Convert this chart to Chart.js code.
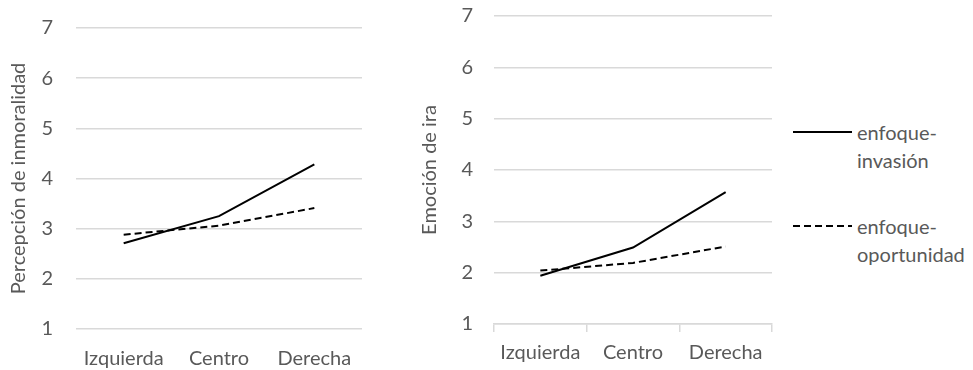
<!DOCTYPE html>
<html>
<head>
<meta charset="utf-8" />
<title>Percepción de inmoralidad y emoción de ira</title>
<script src="https://cdn.jsdelivr.net/npm/chart.js"></script>
<style>
  body { margin:0; padding:0; background:#fff; width:973px; height:370px; overflow:hidden; font-family: Lato, sans-serif; }
  canvas { position:absolute; }
  #c1 { left:0; top:-7px; }
  #c2 { left:400px; top:-17px; }
  #legend { position:absolute; left:793px; top:0; color:#595959; font-size:20px; }
  .item { position:absolute; left:0; width:180px; }
  .item svg { position:absolute; left:0; }
  .item span { position:absolute; left:64px; line-height:28px; white-space:nowrap; }
</style>
</head>
<body>
<canvas id="c1" width="380" height="377"></canvas>
<canvas id="c2" width="380" height="387"></canvas>
<div id="legend"></div>
<script>
const categories = ['Izquierda', 'Centro', 'Derecha'];
const seriesNames = [['enfoque-', 'invasión'], ['enfoque-', 'oportunidad']];
const inmoralidadInvasion = [2.71, 3.25, 4.28];
const inmoralidadOportunidad = [2.88, 3.06, 3.41];
const iraInvasion = [1.94, 2.49, 3.57];
const iraOportunidad = [2.04, 2.19, 2.51];
const yMin = 1, yMax = 7;

const gray = '#595959';
const gridColor = '#d9d9d9';
const dash = [7, 4];
Chart.defaults.font.family = 'Lato, sans-serif';
Chart.defaults.font.size = 20;
Chart.defaults.color = gray;

function makeChart(id, title, invasion, oportunidad, o) {
  return new Chart(document.getElementById(id), {
    type: 'line',
    data: {
      labels: categories,
      datasets: [
        { label: seriesNames[0].join(''), data: invasion, borderColor: '#000', borderWidth: 2, pointRadius: 0, tension: 0 },
        { label: seriesNames[1].join(''), data: oportunidad, borderColor: '#000', borderWidth: 2, borderDash: dash, pointRadius: 0, tension: 0 }
      ]
    },
    options: {
      responsive: false,
      devicePixelRatio: 1,
      animation: false,
      layout: { padding: { left: 0, right: o.right, top: 0, bottom: 0 } },
      plugins: { legend: { display: false }, tooltip: { enabled: false } },
      scales: {
        x: {
          offset: true,
          grid: o.xTicks
            ? { display: true, drawOnChartArea: false, drawTicks: true, tickLength: 8, color: gridColor, lineWidth: 1.5, offset: true }
            : { display: false },
          border: { display: o.xTicks, color: gridColor, width: 1.5 },
          ticks: { padding: o.xPad, color: gray, maxRotation: 0 },
          afterFit: s => { s.height = o.xHeight; }
        },
        y: {
          min: yMin, max: yMax,
          ticks: { stepSize: 1, padding: o.yPad, color: gray },
          grid: { color: gridColor, lineWidth: 1.5, drawTicks: false },
          border: { display: false },
          title: { display: true, text: title, color: gray, padding: { top: o.titlePad, bottom: 0 } },
          afterFit: s => { s.width = o.yWidth; }
        }
      }
    }
  });
}

makeChart('c1', 'Percepción de inmoralidad', inmoralidadInvasion, inmoralidadOportunidad,
  { right: 18, xHeight: 41, xPad: 10, xTicks: false, yPad: 23, yWidth: 76, titlePad: 7 });
makeChart('c2', 'Emoción de ira', iraInvasion, iraOportunidad,
  { right: 8, xHeight: 46, xPad: 9, xTicks: true, yPad: 21, yWidth: 94, titlePad: 18 });

// legend
const legend = document.getElementById('legend');
const legendTops = [118, 212];
seriesNames.forEach((name, i) => {
  const item = document.createElement('div');
  item.className = 'item';
  item.style.top = legendTops[i] + 'px';
  const dashAttr = i === 1 ? ' stroke-dasharray="' + dash.join(',') + '"' : '';
  item.innerHTML = '<svg width="60" height="28"><line x1="0" y1="14" x2="59" y2="14" stroke="#000" stroke-width="2"' + dashAttr + '/></svg>' +
    '<span style="top:0">' + name[0] + '</span><span style="top:28px">' + name[1] + '</span>';
  legend.appendChild(item);
});
</script>
</body>
</html>
